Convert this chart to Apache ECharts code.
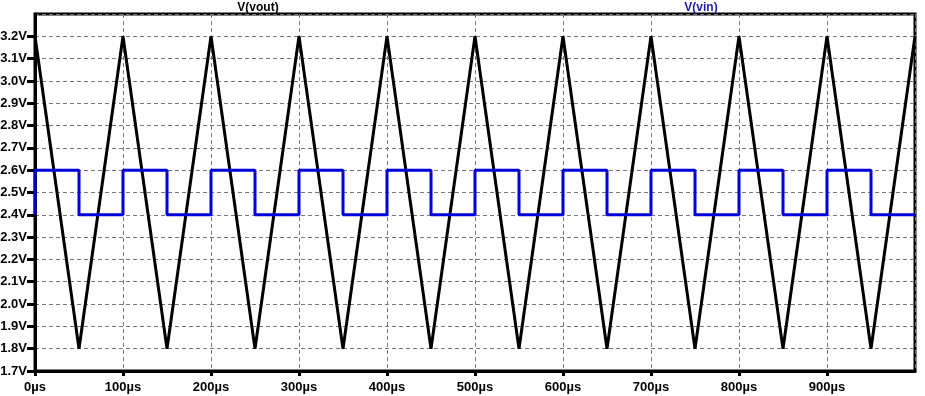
<!DOCTYPE html>
<html><head><meta charset="utf-8">
<script src="https://cdn.jsdelivr.net/npm/echarts@6/dist/echarts.min.js"></script>
<style>html,body{margin:0;padding:0;background:#fff}#c{width:925px;height:396px}</style>
</head><body><div id="c"></div>
<script>
// time in µs, voltage in V
const voutTimes = [0,50,100,150,200,250,300,350,400,450,500,550,600,650,700,750,800,850,900,950,1000];
const voutValues = [3.2,1.8,3.2,1.8,3.2,1.8,3.2,1.8,3.2,1.8,3.2,1.8,3.2,1.8,3.2,1.8,3.2,1.8,3.2,1.8,3.2];
const vinTimes = [0,0,50,50,100,100,150,150,200,200,250,250,300,300,350,350,400,400,450,450,500,500,550,550,600,600,650,650,700,700,750,750,800,800,850,850,900,900,950,950,1000];
const vinValues = [2.4,2.6,2.6,2.4,2.4,2.6,2.6,2.4,2.4,2.6,2.6,2.4,2.4,2.6,2.6,2.4,2.4,2.6,2.6,2.4,2.4,2.6,2.6,2.4,2.4,2.6,2.6,2.4,2.4,2.6,2.6,2.4,2.4,2.6,2.6,2.4,2.4,2.6,2.6,2.4,2.4];
const seriesNames = ['V(vout)','V(vin)'];
const xRange = [0,1000];
const yRange = [1.7,3.3];

const chart = echarts.init(document.getElementById('c'), null, {renderer:'canvas'});
const font = '"Liberation Sans", Arial, sans-serif';
chart.setOption({
  animation:false,
  backgroundColor:'#fff',
  title:[
    {text:seriesNames[0], left:253, top:-3, textAlign:'center', textStyle:{fontFamily:font,fontSize:12,fontWeight:'bold',color:'#000'}},
    {text:seriesNames[1], left:696, top:-3, textAlign:'center', textStyle:{fontFamily:font,fontSize:12,fontWeight:'bold',color:'#1c1ca8'}}
  ],
  grid:{left:35,right:10,top:14,bottom:25,show:true,borderColor:'#000',borderWidth:3,backgroundColor:'#fff',containLabel:false,outerBoundsMode:'none'},
  xAxis:{type:'value',min:xRange[0],max:xRange[1],interval:100,
    axisLine:{show:true,lineStyle:{color:'#000',width:3}},
    axisTick:{show:true,length:5,lineStyle:{color:'#000',width:3}},
    axisLabel:{showMaxLabel:false,color:'#000',fontFamily:font,fontSize:13,fontWeight:'bold',margin:10,formatter:v=>v+'µs'},
    splitLine:{show:true,lineStyle:{color:'#777',type:[4,3],width:1}}},
  yAxis:{type:'value',min:yRange[0],max:yRange[1],interval:0.1,
    axisLine:{show:true,lineStyle:{color:'#000',width:3}},
    axisTick:{show:true,length:8,lineStyle:{color:'#000',width:3}},
    axisLabel:{showMaxLabel:false,color:'#000',fontFamily:font,fontSize:13,fontWeight:'bold',margin:8,formatter:v=>v.toFixed(1)+'V'},
    splitLine:{show:true,lineStyle:{color:'#777',type:[4,3],width:1}}},
  series:[
    {name:seriesNames[0],type:'line',showSymbol:false,symbol:'none',data:voutTimes.map((t,i)=>[t,voutValues[i]]),lineStyle:{color:'#000',width:3},z:3},
    {name:seriesNames[1],type:'line',showSymbol:false,symbol:'none',clip:false,data:vinTimes.map((t,i)=>[t,vinValues[i]]),lineStyle:{color:'#0000dd',width:3},z:4}
  ]
});
</script></body></html>
